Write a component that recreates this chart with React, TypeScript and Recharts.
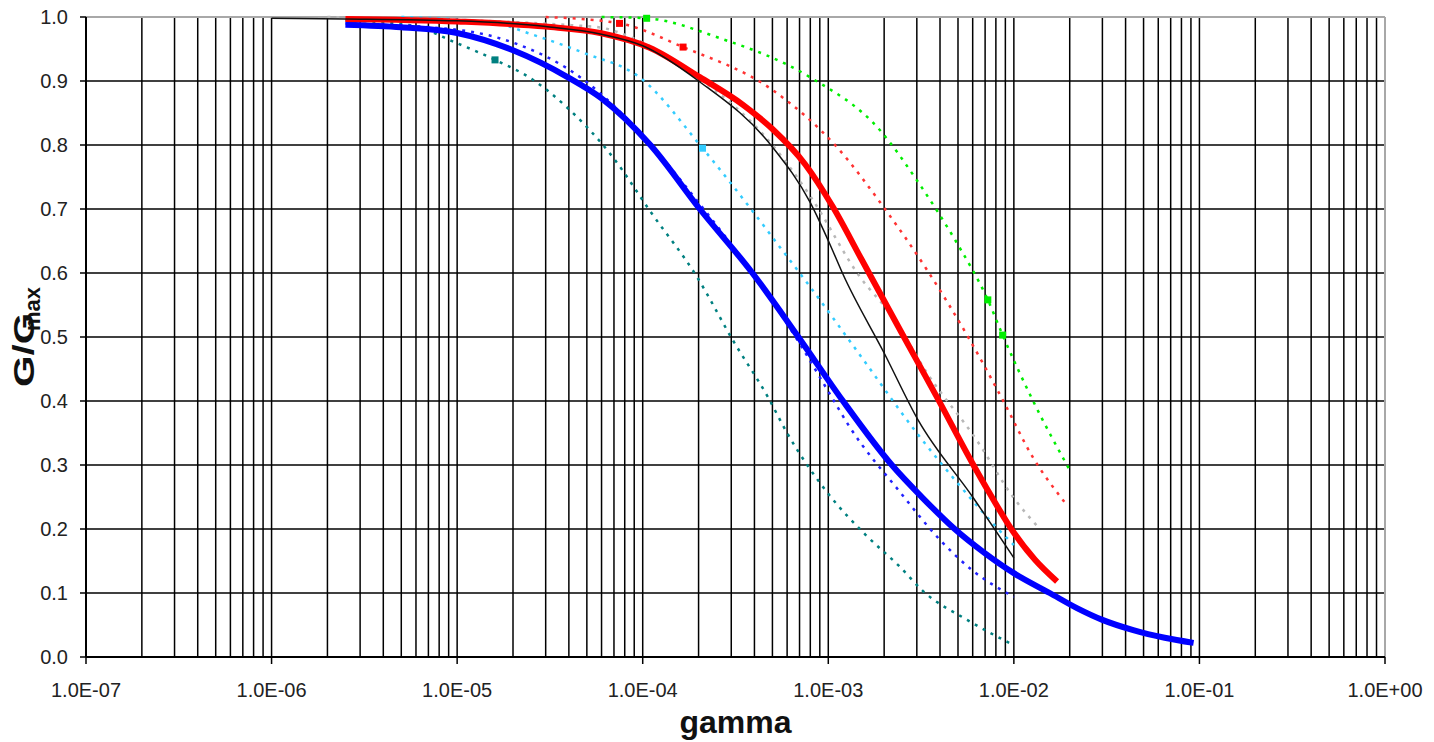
import React from 'react';
import { LineChart, Line, XAxis, YAxis, CartesianGrid, ReferenceLine } from 'recharts';

// ---- axis definitions ----
const decadeTicks = [1e-7, 1e-6, 1e-5, 1e-4, 1e-3, 1e-2, 1e-1, 1];
const xTickLabels = ['1.0E-07', '1.0E-06', '1.0E-05', '1.0E-04', '1.0E-03', '1.0E-02', '1.0E-01', '1.0E+00'];
const minorMultipliers = [1, 2, 3, 4, 5, 6, 7, 8, 9];
const yTicks = [0, 0.1, 0.2, 0.3, 0.4, 0.5, 0.6, 0.7, 0.8, 0.9, 1.0];
const yTickLabels = ['0.0', '0.1', '0.2', '0.3', '0.4', '0.5', '0.6', '0.7', '0.8', '0.9', '1.0'];

// ---- series (gamma, G/Gmax) ----
const blueThickX = [2.5e-6, 5e-6, 1e-5, 2e-5, 4e-5, 6e-5, 1.1e-4, 2.03e-4, 3.9e-4, 6.9e-4, 1.2e-3, 2.2e-3, 3.24e-3, 4.8e-3, 7e-3, 1.0e-2, 1.56e-2, 2.2e-2, 3e-2, 4.4e-2, 6.5e-2, 9.3e-2];
const blueThickY = [0.988, 0.984, 0.975, 0.948, 0.905, 0.873, 0.8, 0.7, 0.6, 0.5, 0.4, 0.3, 0.248, 0.2, 0.162, 0.131, 0.1, 0.076, 0.058, 0.042, 0.03, 0.022];

const blueDotX = [2.5e-6, 1e-5, 2e-5, 4.8e-5, 1e-4, 2e-4, 3.9e-4, 7e-4, 1e-3, 1.3e-3, 2.43e-3, 4e-3, 6e-3, 1e-2];
const blueDotY = [0.99, 0.98, 0.96, 0.902, 0.815, 0.71, 0.6, 0.49, 0.415, 0.36, 0.258, 0.183, 0.135, 0.094];

const redThickX = [2.5e-6, 1e-5, 3e-5, 5.9e-5, 1.09e-4, 2.03e-4, 3.5e-4, 5.0e-4, 7.5e-4, 1.06e-3, 1.5e-3, 2.5e-3, 3.85e-3, 6.0e-3, 7.43e-3, 9.9e-3, 1.3e-2, 1.71e-2];
const redThickY = [0.997, 0.993, 0.985, 0.975, 0.952, 0.906, 0.862, 0.825, 0.77, 0.703, 0.623, 0.505, 0.406, 0.302, 0.255, 0.196, 0.152, 0.118];

const blackX = [1e-6, 2.5e-6, 1e-5, 3e-5, 6e-5, 1e-4, 2e-4, 5e-4, 8e-4, 1.02e-3, 1.2e-3, 2e-3, 3.05e-3, 6e-3, 1e-2];
const blackY = [0.998, 0.997, 0.994, 0.985, 0.973, 0.955, 0.9, 0.797, 0.71, 0.645, 0.598, 0.475, 0.37, 0.25, 0.155];

const greyX = [2e-6, 5.4e-5, 1e-4, 2e-4, 5e-4, 8e-4, 1.48e-3, 2.23e-3, 3.4e-3, 6.3e-3, 9.9e-3, 1.38e-2];
const greyY = [1.0, 0.985, 0.96, 0.905, 0.80, 0.72, 0.594, 0.531, 0.444, 0.339, 0.25, 0.2];

const redDotX = [3e-5, 7.5e-5, 1.65e-4, 5.0e-4, 1.11e-3, 2.02e-3, 3.4e-3, 5.8e-3, 8.7e-3, 1.26e-2, 1.9e-2];
const redDotY = [1.0, 0.99, 0.953, 0.886, 0.797, 0.70, 0.605, 0.495, 0.402, 0.313, 0.24];

const greenX = [6e-5, 1.05e-4, 2.6e-4, 7.96e-4, 1.9e-3, 3.0e-3, 3.9e-3, 5.0e-3, 7.24e-3, 8.7e-3, 1.26e-2, 2.0e-2];
const greenY = [1.0, 0.998, 0.967, 0.906, 0.823, 0.745, 0.695, 0.644, 0.558, 0.503, 0.402, 0.292];

const cyanX = [5e-6, 1.64e-5, 2.4e-5, 4.8e-5, 9.7e-5, 2.1e-4, 3.9e-4, 5.5e-4, 8e-4, 1.48e-3, 3.0e-3, 5.1e-3, 8.1e-3, 1e-2];
const cyanY = [1.0, 0.99, 0.975, 0.944, 0.905, 0.795, 0.697, 0.64, 0.578, 0.472, 0.35, 0.268, 0.202, 0.175];

const tealX = [2.5e-6, 5.6e-6, 1e-5, 1.6e-5, 2.56e-5, 3.9e-5, 6.9e-5, 1.1e-4, 1.96e-4, 3.06e-4, 4.73e-4, 6e-4, 1e-3, 1.6e-3, 2.43e-3, 3.24e-3, 5.6e-3, 9.9e-3];
const tealY = [0.995, 0.987, 0.959, 0.933, 0.902, 0.859, 0.781, 0.696, 0.594, 0.495, 0.406, 0.35, 0.255, 0.19, 0.141, 0.103, 0.058, 0.019];

// indices of the original data points that carry a square marker
const tealMarkers = [3];
const cyanMarkers = [5];
const greenMarkers = [1, 8, 9];
const redDotMarkers = [1, 2];

const toPoints = (xs: number[], ys: number[]) => xs.map((x, i) => ({ x, y: ys[i] }));

const gridX: number[] = [];
decadeTicks.slice(0, -1).forEach((d) => minorMultipliers.forEach((m) => gridX.push(m * d)));
gridX.push(1);

const FONT = '"Liberation Sans", Arial, sans-serif';

const isDecade = (v: number) => Math.abs(Math.log10(v) - Math.round(Math.log10(v))) < 1e-6;

const XTick = (props: any) => {
  const { x, y, payload } = props;
  const v = payload.value;
  if (!isDecade(v)) return <g />;
  const idx = decadeTicks.findIndex((d) => Math.abs(Math.log10(d) - Math.log10(v)) < 1e-6);
  return (
    <g>
      <line x1={x} x2={x} y1={y} y2={y + 7} stroke="#000" strokeWidth={1.5} />
      <text x={x} y={y + 40} textAnchor="middle" fontSize={20} fontFamily={FONT} fill="#222">
        {xTickLabels[idx]}
      </text>
    </g>
  );
};

const YTick = (props: any) => {
  const { x, y, payload } = props;
  const idx = yTicks.findIndex((t) => Math.abs(t - payload.value) < 1e-6);
  return (
    <g>
      <line x1={x - 6} x2={x} y1={y} y2={y} stroke="#000" strokeWidth={1.5} />
      <text x={x - 18} y={y + 7} textAnchor="end" fontSize={20} fontFamily={FONT} fill="#222">
        {yTickLabels[idx]}
      </text>
    </g>
  );
};

const XLabel = (props: any) => {
  const vb = props.viewBox || { x: 86, width: 1299 };
  return (
    <text x={vb.x + vb.width / 2} y={733} textAnchor="middle" fontSize={32} fontWeight="bold" fontFamily={FONT} fill="#111">
      gamma
    </text>
  );
};

const YLabel = () => (
  <g>
    <text transform="translate(34, 387) rotate(-90) scale(1.35, 1)" x={0} y={0} fontFamily={FONT} fontWeight="bold" fontSize={30} fill="#111">
      G/G
    </text>
    <text transform="translate(40, 331) rotate(-90)" x={0} y={0} fontFamily={FONT} fontWeight="bold" fontSize={22} fill="#111">
      max
    </text>
  </g>
);

const squareDot = (marks: number[], color: string) => (p: any) => {
  const { cx, cy, index } = p;
  if (!marks.includes(index) || cx == null || cy == null) return <g key={`d${index}`} />;
  return <rect key={`d${index}`} x={cx - 3.5} y={cy - 3.5} width={7} height={7} fill={color} />;
};

const dotted = { strokeWidth: 2.5, strokeDasharray: '3 6', strokeLinecap: 'butt' as const };

export default function App() {
  return (
    <div style={{ position: 'absolute', left: 0, top: 0, width: 1434, height: 742, background: '#fff' }}>
      <LineChart width={1434} height={742} margin={{ top: 17, right: 49, bottom: 0, left: 0 }}>
        <CartesianGrid stroke="#000" strokeWidth={1.5} />
        <XAxis
          type="number"
          dataKey="x"
          scale="log"
          domain={[1e-7, 1]}
          ticks={gridX}
          interval={0}
          allowDataOverflow
          height={85}
          tickSize={0}
          tickMargin={0}
          tick={<XTick />}
          axisLine={{ stroke: '#000', strokeWidth: 2 }}
          label={<XLabel />}
        />
        <YAxis
          type="number"
          dataKey="y"
          domain={[0, 1]}
          ticks={yTicks}
          interval={0}
          width={86}
          tickSize={0}
          tickMargin={0}
          tick={<YTick />}
          axisLine={{ stroke: '#000', strokeWidth: 2 }}
          label={<YLabel />}
        />
        <ReferenceLine x={1} stroke="#a8a8a8" strokeWidth={2} />
        <ReferenceLine y={1} stroke="#a8a8a8" strokeWidth={2} />
        <Line data={toPoints(tealX, tealY)} dataKey="y" stroke="#008080" {...dotted} dot={squareDot(tealMarkers, '#008080')} activeDot={false} isAnimationActive={false} type="monotone" />
        <Line data={toPoints(cyanX, cyanY)} dataKey="y" stroke="#33ccff" {...dotted} dot={squareDot(cyanMarkers, '#33ccff')} activeDot={false} isAnimationActive={false} type="monotone" />
        <Line data={toPoints(greenX, greenY)} dataKey="y" stroke="#00ee00" {...dotted} dot={squareDot(greenMarkers, '#00ee00')} activeDot={false} isAnimationActive={false} type="monotone" />
        <Line data={toPoints(redDotX, redDotY)} dataKey="y" stroke="#ff3333" {...dotted} dot={squareDot(redDotMarkers, '#ff0000')} activeDot={false} isAnimationActive={false} type="monotone" />
        <Line data={toPoints(greyX, greyY)} dataKey="y" stroke="#b8b8b8" {...dotted} dot={false} activeDot={false} isAnimationActive={false} type="monotone" />
        <Line data={toPoints(blueDotX, blueDotY)} dataKey="y" stroke="#2222ff" {...dotted} dot={false} activeDot={false} isAnimationActive={false} type="monotone" />
        <Line data={toPoints(blueThickX, blueThickY)} dataKey="y" stroke="#0000ff" strokeWidth={6} dot={false} activeDot={false} isAnimationActive={false} type="monotone" />
        <Line data={toPoints(redThickX, redThickY)} dataKey="y" stroke="#ff0000" strokeWidth={6} dot={false} activeDot={false} isAnimationActive={false} type="monotone" />
        <Line data={toPoints(blackX, blackY)} dataKey="y" stroke="#111" strokeWidth={1.5} dot={false} activeDot={false} isAnimationActive={false} type="monotone" />
      </LineChart>
    </div>
  );
}
